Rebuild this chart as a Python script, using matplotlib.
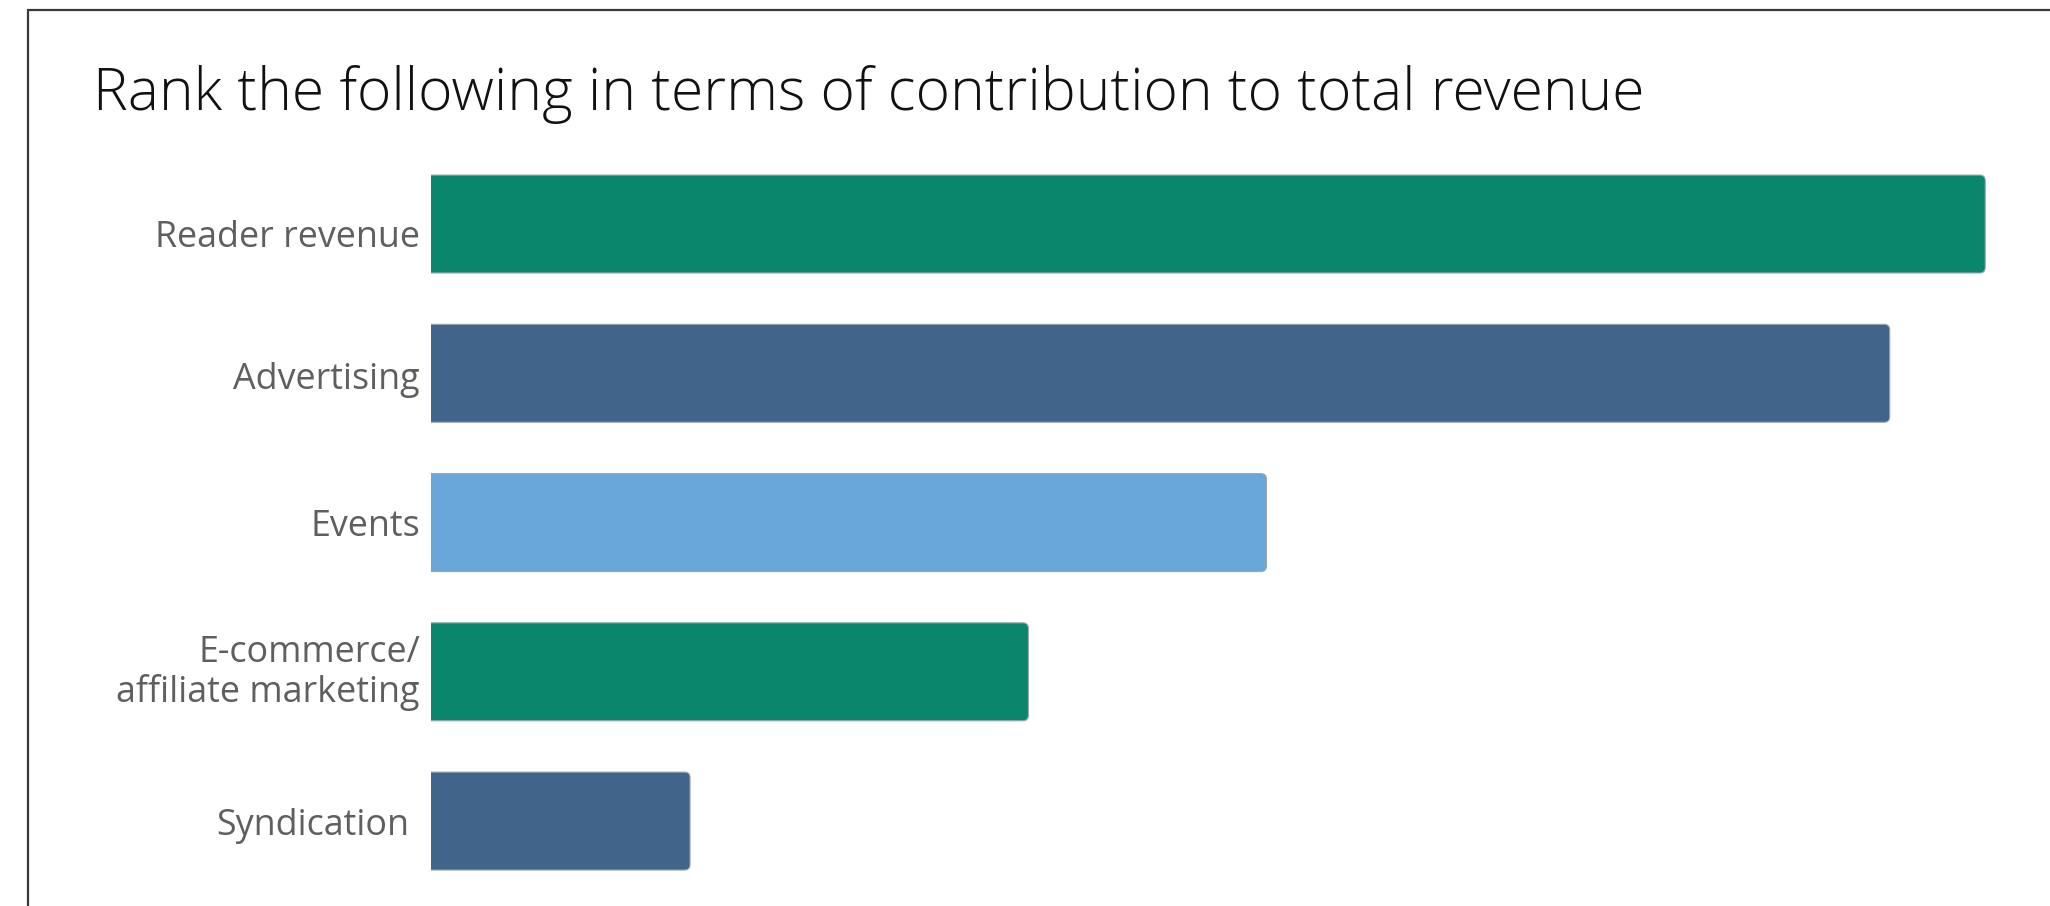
import matplotlib
matplotlib.use("Agg")
import matplotlib.pyplot as plt
from matplotlib.patches import FancyBboxPatch, Rectangle
from matplotlib.transforms import ScaledTranslation

# Revenue sources, ranked by weighted score (top to bottom)
categories = ["Reader revenue", "Advertising", "Events",
              "E-commerce/\naffiliate marketing", "Syndication"]
scores = [96.0, 90.1, 51.6, 36.9, 16.0]
bar_colors = ["#0A866B", "#40648A", "#69A7DA", "#0A866B", "#40648A"]

title = "Rank the following in terms of contribution to total revenue"

W, H, DPI = 2050, 906, 100
fig = plt.figure(figsize=(W / DPI, H / DPI), dpi=DPI)
fig.patch.set_facecolor("white")

# Outer frame, running off the right and bottom edges
fig.patches.append(Rectangle((27.5 / W, -0.1), 1.2, 1.1 - 10.5 / H,
                             transform=fig.transFigure, fill=False,
                             edgecolor="#3a3a3a", linewidth=1.6))

label_font = "Open Sans"
title_font = "Open Sans"

# Title, sized to its intended width
t = fig.text(93 / W, 1 - 110 / H, title, ha="left", va="baseline",
             fontsize=44, family=title_font, fontweight="light", color="#111111")
fig.canvas.draw()
tw = t.get_window_extent().width
t.set_fontsize(44 * 1551 / tw)

ax_top, ax_bot = 149.4, 895.7
ax = fig.add_axes([431 / W, 1 - ax_bot / H, 1 - 431 / W, (ax_bot - ax_top) / H])
ax.set_xlim(0, 100)
ax.set_ylim(len(categories) - 0.5, -0.5)
for s in ax.spines.values():
    s.set_visible(False)
ax.set_xticks([])

ypos = list(range(len(categories)))
bh = 0.656
bars = ax.barh(ypos, scores, height=bh, color=bar_colors)

# Replace plain rectangles with bars rounded on the value end
fig.canvas.draw()
bb = ax.get_window_extent()
px_x = (ax.get_xlim()[1] - ax.get_xlim()[0]) / bb.width
px_y = abs(ax.get_ylim()[0] - ax.get_ylim()[1]) / bb.height
r_px = 5.5
for rect, col in zip(bars.patches, bar_colors):
    x0, y0 = rect.get_x(), rect.get_y()
    w, h = rect.get_width(), rect.get_height()
    rect.set_visible(False)
    rx = r_px * px_x
    p = FancyBboxPatch((x0 - 2 * rx, y0), w + 2 * rx, h,
                       boxstyle=f"round,pad=0,rounding_size={rx}",
                       mutation_aspect=px_y / px_x,
                       facecolor=col, edgecolor="#9aa5ad", linewidth=0.8,
                       clip_on=True)
    ax.add_patch(p)
    p.set_clip_path(ax.patch)

ax.set_yticks(ypos)
ax.set_yticklabels(categories, family=label_font, fontsize=24,
                   color="#5f5f5f", linespacing=1.13)
ax.tick_params(axis="y", length=0, pad=8)

# Fit label size to the intended width of the first label
fig.canvas.draw()
lbls = ax.get_yticklabels()
lw = lbls[0].get_window_extent().width
fs = 24 * 266 / lw
for lb in lbls:
    lb.set_fontsize(fs)

# Small per-label nudges (dx, dy in pixels)
nudges = {0: (0, -9), 1: (0, -2), 3: (0, 5), 4: (-11, 0)}
for i, (dx, dy) in nudges.items():
    lbls[i].set_transform(lbls[i].get_transform() +
                          ScaledTranslation(dx / DPI, dy / DPI, fig.dpi_scale_trans))

fig.savefig("out.png", dpi=DPI, facecolor="white")
